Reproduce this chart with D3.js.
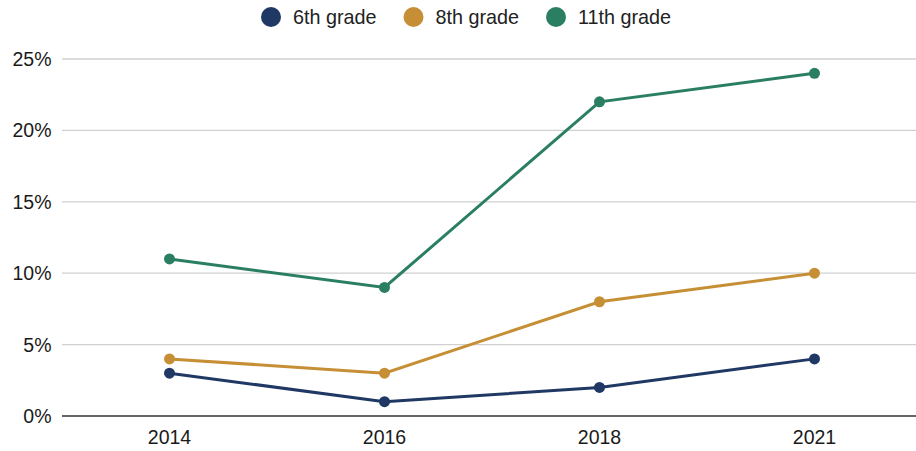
<!DOCTYPE html>
<html><head><meta charset="utf-8">
<script src="https://cdn.jsdelivr.net/npm/d3@7"></script>
<style>body{margin:0;background:#fff;}svg{display:block;font-family:"Liberation Sans",Arial,sans-serif;}</style>
</head><body><svg id="c" width="916" height="451"></svg>
<script>
const years = ["2014","2016","2018","2021"];
const seriesNames = ["6th grade","8th grade","11th grade"];
const sixth = [3,1,2,4];
const eighth = [4,3,8,10];
const eleventh = [11,9,22,24];
const colors = ["#1f3864","#c68f35","#2a7f62"];
const yTicks = [0,5,10,15,20,25];

(function(){
const series = [sixth, eighth, eleventh].map((v,i)=>({name:seriesNames[i], values:v, color:colors[i]}));
const svg = d3.select("#c");
const mLeft = 62, mRight = 916, mTop = 59, mBottom = 416;
const x = d3.scaleBand().domain(years).range([mLeft, mLeft + 4*215]);
const y = d3.scaleLinear().domain([0,25]).range([mBottom, mTop]);
const fs = 19.5;

svg.append("g").selectAll("line").data(yTicks.filter(d=>d>0)).join("line")
  .attr("x1",mLeft).attr("x2",mRight).attr("y1",d=>y(d)).attr("y2",d=>y(d))
  .attr("stroke","#d0d0d0").attr("stroke-width",1.3);
svg.append("line").attr("x1",mLeft).attr("x2",mRight).attr("y1",y(0)).attr("y2",y(0))
  .attr("stroke","#333").attr("stroke-width",1.3);

svg.append("g").selectAll("text").data(yTicks).join("text")
  .attr("x",51.5).attr("y",d=>y(d)).attr("dy","0.36em").attr("text-anchor","end")
  .attr("font-size",fs).attr("fill","#1a1a1a").text(d=>d+"%");
svg.append("g").selectAll("text").data(years).join("text")
  .attr("x",d=>x(d)+x.bandwidth()/2).attr("y",444).attr("text-anchor","middle")
  .attr("font-size",fs).attr("fill","#1a1a1a").text(d=>d);

const line = d3.line().x((d,i)=>x(years[i])+x.bandwidth()/2).y(d=>y(d));
series.forEach(s=>{
  svg.append("path").attr("d",line(s.values)).attr("fill","none")
    .attr("stroke",s.color).attr("stroke-width",3);
  svg.append("g").selectAll("circle").data(s.values).join("circle")
    .attr("cx",(d,i)=>x(years[i])+x.bandwidth()/2).attr("cy",d=>y(d)).attr("r",5.5)
    .attr("fill",s.color);
});

const legX = [271, 413.5, 556];
const lg = svg.append("g");
series.forEach((s,i)=>{
  lg.append("circle").attr("cx",legX[i]).attr("cy",17).attr("r",10).attr("fill",s.color);
  lg.append("text").attr("x",legX[i]+22).attr("y",23.5)
    .attr("font-size",19.8).attr("fill","#222").text(s.name);
});
})();
</script></body></html>
